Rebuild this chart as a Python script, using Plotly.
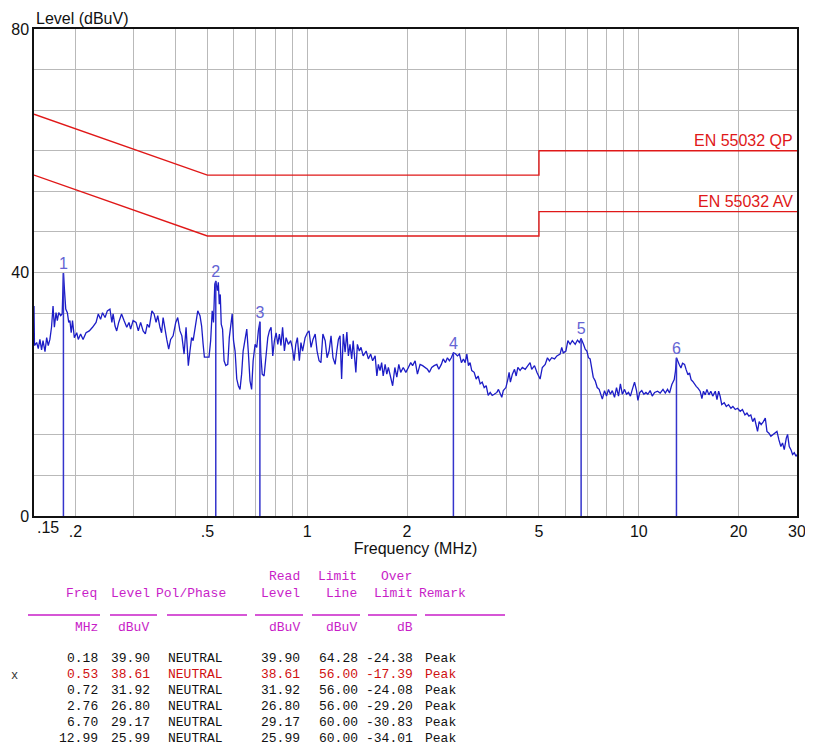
import plotly.graph_objects as go

# ---------------- measured trace (MHz, dBuV) ----------------
freq_mhz = [
    0.1500, 0.1505, 0.1528, 0.1545, 0.1563, 0.1581, 0.1597, 0.1619, 0.1638, 0.1656,
    0.1675, 0.1694, 0.1712, 0.1728, 0.1748, 0.1764, 0.1781, 0.1805, 0.1824, 0.1840,
    0.1857, 0.1870, 0.1891, 0.1909, 0.1925, 0.1942, 0.1960, 0.1985, 0.2018, 0.2040,
    0.2073, 0.2109, 0.2153, 0.2202, 0.2252, 0.2308, 0.2344, 0.2382, 0.2414, 0.2457,
    0.2496, 0.2542, 0.2576, 0.2598, 0.2633, 0.2664, 0.2701, 0.2755, 0.2803, 0.2856,
    0.2901, 0.2934, 0.2985, 0.3047, 0.3095, 0.3145, 0.3200, 0.3250, 0.3295, 0.3340,
    0.3401, 0.3453, 0.3501, 0.3542, 0.3597, 0.3638, 0.3677, 0.3727, 0.3771, 0.3822,
    0.3874, 0.3941, 0.4014, 0.4069, 0.4133, 0.4188, 0.4253, 0.4312, 0.4380, 0.4431,
    0.4481, 0.4529, 0.4591, 0.4677, 0.4750, 0.4804, 0.4855, 0.4897, 0.4979, 0.5057,
    0.5115, 0.5170, 0.5217, 0.5264, 0.5300, 0.5358, 0.5395, 0.5431, 0.5468, 0.5505,
    0.5556, 0.5615, 0.5682, 0.5760, 0.5822, 0.5889, 0.5940, 0.5996, 0.6061, 0.6132,
    0.6199, 0.6271, 0.6342, 0.6409, 0.6497, 0.6573, 0.6645, 0.6722, 0.6798, 0.6870,
    0.6964, 0.7046, 0.7123, 0.7200, 0.7245, 0.7317, 0.7413, 0.7501, 0.7606, 0.7690,
    0.7781, 0.7873, 0.7964, 0.8058, 0.8153, 0.8244, 0.8335, 0.8429, 0.8536, 0.8637,
    0.8773, 0.8916, 0.9011, 0.9131, 0.9239, 0.9341, 0.9470, 0.9576, 0.9685, 0.9856,
    1.001, 1.013, 1.027, 1.041, 1.057, 1.071, 1.086, 1.100, 1.115, 1.133,
    1.148, 1.164, 1.180, 1.196, 1.214, 1.228, 1.242, 1.256, 1.270, 1.285,
    1.301, 1.317, 1.331, 1.346, 1.362, 1.376, 1.402, 1.417, 1.436, 1.453,
    1.475, 1.506, 1.529, 1.554, 1.575, 1.603, 1.622, 1.639, 1.658, 1.677,
    1.695, 1.718, 1.738, 1.757, 1.786, 1.810, 1.838, 1.863, 1.889, 1.914,
    1.948, 1.984, 2.019, 2.052, 2.079, 2.116, 2.150, 2.190, 2.229, 2.273,
    2.305, 2.336, 2.374, 2.415, 2.460, 2.494, 2.538, 2.571, 2.612, 2.648,
    2.684, 2.720, 2.760, 2.794, 2.839, 2.878, 2.918, 2.959, 2.995, 3.030,
    3.064, 3.099, 3.135, 3.188, 3.233, 3.278, 3.324, 3.370, 3.418, 3.466,
    3.514, 3.563, 3.613, 3.664, 3.733, 3.774, 3.818, 3.862, 3.903, 3.974,
    4.029, 4.064, 4.100, 4.157, 4.219, 4.268, 4.318, 4.386, 4.454, 4.544,
    4.629, 4.701, 4.754, 4.847, 4.928, 5.039, 5.117, 5.221, 5.304, 5.377,
    5.463, 5.570, 5.662, 5.790, 5.856, 5.919, 6.028, 6.111, 6.207, 6.302,
    6.431, 6.533, 6.622, 6.700, 6.812, 6.893, 6.974, 7.051, 7.132, 7.213,
    7.289, 7.389, 7.492, 7.594, 7.697, 7.764, 7.882, 7.992, 8.102, 8.211,
    8.321, 8.449, 8.567, 8.685, 8.802, 8.920, 9.057, 9.183, 9.309, 9.435,
    9.561, 9.709, 9.844, 9.938, 10.07, 10.21, 10.36, 10.51, 10.65, 10.82,
    10.98, 11.16, 11.39, 11.60, 11.83, 12.02, 12.21, 12.38, 12.58, 12.79,
    12.90, 12.99, 13.24, 13.40, 13.55, 13.74, 13.90, 14.07, 14.22, 14.38,
    14.55, 14.73, 14.90, 15.08, 15.31, 15.50, 15.67, 15.86, 16.05, 16.27,
    16.49, 16.71, 17.01, 17.21, 17.41, 17.59, 17.79, 18.10, 18.36, 18.65,
    18.96, 19.22, 19.54, 19.85, 20.22, 20.54, 20.90, 21.19, 21.48, 21.77,
    22.06, 22.34, 22.61, 22.81, 23.07, 23.39, 23.75, 24.07, 24.35, 24.69,
    25.02, 25.37, 25.80, 26.10, 26.46, 26.82, 27.13, 27.46, 27.85, 28.10,
    28.43, 28.76, 29.09, 29.44, 29.79, 30.00,
]
level_dbuv = [
    34.5, 28.0, 28.5, 27.5, 29.0, 27.3, 28.8, 27.0, 29.3, 28.0,
    29.0, 31.0, 34.5, 31.0, 33.4, 32.1, 33.4, 32.9, 33.2, 39.9,
    36.4, 34.0, 33.4, 31.8, 32.1, 30.1, 32.1, 29.3, 30.1, 29.0,
    29.9, 29.0, 30.1, 30.4, 31.0, 31.8, 33.2, 32.3, 33.4, 32.6,
    33.7, 34.0, 31.8, 33.2, 31.2, 30.4, 31.8, 33.2, 32.1, 31.0,
    31.8, 30.7, 32.1, 31.8, 30.4, 31.8, 30.4, 29.9, 31.5, 31.0,
    33.7, 33.2, 31.8, 32.9, 31.0, 30.1, 32.6, 31.0, 29.0, 27.4,
    29.0, 29.6, 31.8, 32.6, 30.4, 29.6, 26.6, 31.0, 24.7, 27.1,
    29.3, 28.8, 31.0, 33.7, 32.9, 31.2, 28.2, 26.1, 26.1, 26.1,
    28.8, 33.7, 31.8, 38.1, 38.61, 37.0, 38.4, 34.8, 36.4, 31.5,
    30.7, 25.5, 24.7, 24.9, 29.3, 31.8, 33.2, 28.8, 27.1, 22.5,
    21.4, 20.8, 23.3, 27.1, 29.3, 30.7, 26.9, 22.2, 20.8, 25.5,
    28.2, 27.7, 30.4, 31.92, 26.6, 23.3, 23.0, 26.0, 29.3, 30.4,
    31.0, 26.3, 28.8, 30.1, 28.2, 29.9, 28.0, 31.0, 27.1, 29.3,
    28.2, 28.8, 27.7, 25.5, 28.2, 29.3, 25.5, 28.5, 27.1, 29.3,
    30.1, 30.4, 27.7, 29.0, 29.9, 27.1, 25.5, 25.2, 29.9, 28.8,
    26.0, 27.1, 29.6, 26.0, 24.9, 27.1, 29.0, 29.6, 22.5, 29.9,
    26.9, 30.2, 26.3, 28.2, 25.8, 28.8, 23.6, 28.2, 27.1, 27.7,
    26.3, 27.1, 25.8, 26.6, 25.5, 26.3, 23.0, 24.9, 23.9, 25.2,
    23.0, 24.9, 23.3, 24.4, 22.5, 21.4, 24.4, 22.8, 24.9, 23.6,
    24.4, 23.6, 24.4, 25.2, 24.7, 25.5, 23.3, 24.9, 24.7, 24.4,
    24.1, 23.6, 24.4, 24.7, 24.9, 24.1, 24.9, 25.8, 25.2, 26.0,
    25.5, 26.0, 26.80, 26.7, 26.3, 26.6, 25.2, 25.8, 25.2, 26.6,
    24.7, 25.2, 23.9, 23.6, 22.5, 23.0, 21.7, 22.0, 21.1, 21.4,
    19.8, 20.3, 19.8, 20.0, 20.3, 20.8, 20.0, 19.5, 20.6, 21.1,
    22.5, 23.6, 22.0, 23.3, 24.1, 23.0, 24.4, 23.9, 24.4, 24.1,
    24.7, 25.2, 24.1, 24.7, 23.6, 22.5, 24.4, 24.9, 26.0, 25.5,
    26.0, 25.8, 26.3, 26.6, 27.7, 26.8, 27.1, 28.8, 28.2, 28.8,
    28.2, 28.9, 28.5, 29.17, 28.2, 27.4, 27.1, 26.0, 25.8, 24.4,
    22.8, 22.2, 21.1, 20.8, 19.7, 19.2, 20.6, 19.7, 20.8, 20.0,
    20.6, 19.5, 21.1, 19.7, 21.7, 20.0, 20.8, 20.0, 20.3, 19.7,
    20.8, 22.0, 20.6, 19.0, 20.3, 20.6, 20.0, 20.3, 20.0, 20.6,
    19.7, 20.3, 20.5, 20.2, 20.8, 20.2, 20.8, 20.2, 21.6, 22.4,
    23.8, 25.99, 24.9, 24.3, 25.1, 24.9, 24.0, 23.2, 23.5, 22.4,
    22.1, 21.6, 21.3, 21.0, 20.5, 19.3, 20.5, 19.9, 20.8, 19.9,
    20.5, 19.7, 20.5, 19.1, 20.5, 19.7, 18.3, 18.6, 18.0, 18.3,
    17.7, 18.0, 17.5, 17.7, 17.2, 17.5, 16.6, 16.9, 16.4, 16.6,
    15.5, 16.1, 15.0, 13.9, 15.5, 15.0, 15.5, 16.1, 13.9, 13.6,
    13.1, 13.4, 13.6, 13.9, 12.5, 11.4, 12.0, 10.9, 12.8, 13.4,
    11.4, 10.9, 10.1, 10.4, 9.8, 10.1,
]

# ---------------- limit lines ----------------
qp_freq = [0.15, 0.5, 5, 5, 30]
qp_level = [66, 56, 56, 60, 60]
av_freq = [0.15, 0.5, 5, 5, 30]
av_level = [56, 46, 46, 50, 50]
qp_name = "EN 55032 QP"
av_name = "EN 55032 AV"

# ---------------- markers / table ----------------
mk_no = ["1", "2", "3", "4", "5", "6"]
mk_freq = [0.184, 0.53, 0.72, 2.76, 6.70, 12.99]
mk_level = [39.90, 38.61, 31.92, 26.80, 29.17, 25.99]
mk_read = [39.90, 38.61, 31.92, 26.80, 29.17, 25.99]
mk_limit = [64.28, 56.00, 56.00, 56.00, 60.00, 60.00]
mk_over = [-24.38, -17.39, -24.08, -29.20, -30.83, -34.01]
mk_pol = ["NEUTRAL"] * 6
mk_remark = ["Peak"] * 6
worst_row = 1

# ---------------- ticks ----------------
x_tick_vals = [0.15, 0.2, 0.3, 0.4, 0.5, 0.6, 0.7, 0.8, 0.9, 1, 2, 3, 4, 5, 6, 7, 8, 9, 10, 20, 30]
x_tick_text = ["", ".2", "", "", ".5", "", "", "", "", "1", "2", "", "", "5", "", "", "", "", "10", "20", "30"]
x_first_label = ".15"
y_tick_vals = [0, 6.667, 13.333, 20, 26.667, 33.333, 40, 46.667, 53.333, 60, 66.667, 73.333, 80]
y_tick_text = ["0", "", "", "", "", "", "40", "", "", "", "", "", "80"]

# ---------------- figure ----------------
# the page body has an 8px margin, so the figure is placed 8px in from the window edge
OFF = 8
W, H = 813 - OFF, 749 - OFF
PL, PT, PR, PB = 34, 29, 797, 516          # plot box in window pixels
L, T = PL - OFF, PT - OFF
R, B = W + OFF - PR, H + OFF - PB
PW, PH = PR - PL, PB - PT

TRACE_C = "#1c1cc6"
MARK_C = "#3434cc"
NUM_C = "#6464d4"
LIM_C = "#e01818"
MAG = "#c81ec8"
SANS = "Liberation Sans, Arial, sans-serif"
MONO = "Liberation Mono, DejaVu Sans Mono, monospace"

fig = go.Figure()

fig.add_trace(go.Scatter(x=qp_freq, y=qp_level, mode="lines",
                         line=dict(color=LIM_C, width=1.4), hoverinfo="skip"))
fig.add_trace(go.Scatter(x=av_freq, y=av_level, mode="lines",
                         line=dict(color=LIM_C, width=1.4), hoverinfo="skip"))

fig.add_trace(go.Scatter(x=freq_mhz, y=level_dbuv, mode="lines",
                         line=dict(color=TRACE_C, width=1.3), hoverinfo="skip"))

mx, my = [], []
for f, lv in zip(mk_freq, mk_level):
    mx += [f, f, None]
    my += [0, lv, None]
fig.add_trace(go.Scatter(x=mx, y=my, mode="lines",
                         line=dict(color=MARK_C, width=1.5), hoverinfo="skip"))

fig.add_trace(go.Scatter(x=mk_freq, y=mk_level, mode="text", text=mk_no,
                         textposition="top center",
                         textfont=dict(family=SANS, size=16, color=NUM_C),
                         hoverinfo="skip"))

annotations = []
for name, lv in ((qp_name, qp_level[-1]), (av_name, av_level[-1])):
    annotations.append(dict(x=1, xref="paper", y=lv, yref="y", xanchor="right",
                            yanchor="bottom", xshift=-2, yshift=0, text=name,
                            showarrow=False, font=dict(family=SANS, size=16, color=LIM_C)))

annotations.append(dict(x=0, xref="paper", y=1, yref="paper", xanchor="left",
                        yanchor="bottom", xshift=0, yshift=0, text="Level (dBuV)",
                        showarrow=False, font=dict(family=SANS, size=16, color="#111")))
annotations.append(dict(x=0, xref="paper", y=0, yref="paper", xanchor="left",
                        yanchor="top", xshift=1, yshift=-1, text=x_first_label,
                        showarrow=False, font=dict(family=SANS, size=16, color="#111")))


def px(xp):
    return (xp - PL) / PW


def py(yp):
    return (PB - yp) / PH


def tann(text, xp, yp, anchor, color):
    annotations.append(dict(x=px(xp), y=py(yp), xref="paper", yref="paper",
                            xanchor=anchor, yanchor="middle", text=text, showarrow=False,
                            font=dict(family=MONO, size=13, color=color)))


# header line 1
tann("Read", 302, 576, "right", MAG)
tann("Limit", 359, 576, "right", MAG)
tann("Over", 414, 576, "right", MAG)
# header line 2
tann("Freq", 99, 593, "right", MAG)
tann("Level", 152, 593, "right", MAG)
tann("Pol/Phase", 154, 593, "left", MAG)
tann("Level", 302, 593, "right", MAG)
tann("Line", 359, 593, "right", MAG)
tann("Limit", 415, 593, "right", MAG)
tann("Remark", 417, 593, "left", MAG)
# units
tann("MHz", 100, 627, "right", MAG)
tann("dBuV", 151, 627, "right", MAG)
tann("dBuV", 302, 627, "right", MAG)
tann("dBuV", 359, 627, "right", MAG)
tann("dB", 415, 627, "right", MAG)

row_y = [658, 674, 690, 706, 722, 738]
for i in range(len(mk_no)):
    c = "#d01010" if i == worst_row else "#111111"
    yv = row_y[i]
    tann(f"{mk_freq[i]:.2f}", 100, yv, "right", c)
    tann(f"{mk_level[i]:.2f}", 152, yv, "right", c)
    tann(mk_pol[i], 166, yv, "left", c)
    tann(f"{mk_read[i]:.2f}", 302, yv, "right", c)
    tann(f"{mk_limit[i]:.2f}", 360, yv, "right", c)
    tann(f"{mk_over[i]:.2f}", 415, yv, "right", c)
    tann(mk_remark[i], 423, yv, "left", c)

annotations.append(dict(x=px(9), y=py(676), xref="paper", yref="paper", xanchor="left",
                        yanchor="middle", text="x", showarrow=False,
                        font=dict(family=MONO, size=12, color="#333")))

shapes = []
for x0, x1 in [(28, 100), (110, 157), (167, 247), (255, 303), (312, 360), (368, 417), (425, 505)]:
    shapes.append(dict(type="line", xref="paper", yref="paper",
                       x0=px(x0), x1=px(x1), y0=py(615), y1=py(615),
                       line=dict(color=MAG, width=1.5)))

axis_common = dict(showgrid=True, gridcolor="#b9b9b9", gridwidth=1, zeroline=False,
                   showline=True, linecolor="#111", linewidth=1.5, mirror=True,
                   ticks="", automargin=False,
                   tickfont=dict(family=SANS, size=16, color="#111"))

fig.update_layout(
    width=W, height=H,
    margin=dict(l=L, r=R, t=T, b=B, pad=0, autoexpand=False),
    paper_bgcolor="white", plot_bgcolor="white",
    showlegend=False,
    xaxis=dict(type="log", range=[-0.823909, 1.477121], tickmode="array",
               tickvals=x_tick_vals, ticktext=x_tick_text,
               title=dict(text="Frequency (MHz)", standoff=4,
                          font=dict(family=SANS, size=16, color="#111")),
               **axis_common),
    yaxis=dict(range=[0, 80], tickmode="array", tickvals=y_tick_vals, ticktext=y_tick_text,
               **axis_common),
    annotations=annotations,
    shapes=shapes,
)

fig.write_html("out.html", config={"displayModeBar": False})
